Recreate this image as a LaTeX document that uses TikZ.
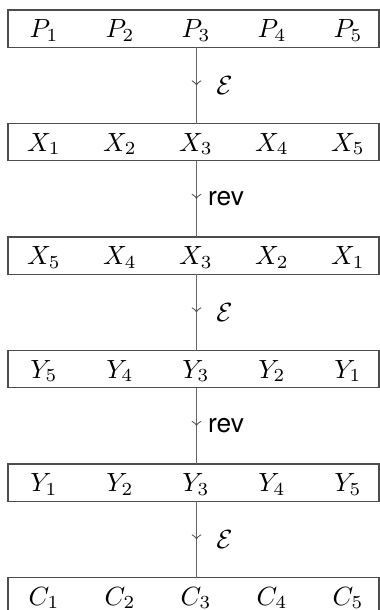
\documentclass[tikz,border=0pt]{standalone}
\usepackage{fontspec}
\setsansfont{TeX Gyre Heros}
\usetikzlibrary{decorations.markings}
\begin{document}
\begin{tikzpicture}[x=0.38pt,y=-0.38pt,
  rowbox/.style={draw=black!70,line width=0.45pt},
  item/.style={anchor=base,inner sep=0pt},
  flow/.style={draw=black!60,line width=0.7pt,
    postaction={decorate,decoration={markings,mark=at position 0.5 with {\arrow[black!70,line width=0.35pt,scale=1.1]{to}}}}},
  lab/.style={anchor=center,inner sep=0pt}]
\useasboundingbox (0,0) rectangle (380,610);
\foreach \r/\t/\a/\b/\c/\d/\e in {
  1/10/P_1/P_2/P_3/P_4/P_5,
  2/123.5/X_1/X_2/X_3/X_4/X_5,
  3/237/X_5/X_4/X_3/X_2/X_1,
  4/350.5/Y_5/Y_4/Y_3/Y_2/Y_1,
  5/464/Y_1/Y_2/Y_3/Y_4/Y_5,
  6/577.5/C_1/C_2/C_3/C_4/C_5}{
  \draw[rowbox] (8,\t) rectangle (379,\t+37.3);
  \coordinate (top\r) at (196.5,\t);
  \coordinate (bot\r) at (196.5,\t+37.3);
  \node[item] (n\r a) at (44,\t+27.5) {$\a$};
  \node[item] (n\r b) at (120,\t+27.5) {$\b$};
  \node[item] (n\r c) at (196,\t+27.5) {$\c$};
  \node[item] (n\r d) at (272,\t+27.5) {$\d$};
  \node[item] (n\r e) at (348,\t+27.5) {$\e$};
}
\draw[flow] (bot1) -- (top2);
\draw[flow] (bot2) -- (top3);
\draw[flow] (bot3) -- (top4);
\draw[flow] (bot4) -- (top5);
\draw[flow] (bot5) -- (top6);
\node[lab] (l1) at (224.5,86) {$\mathcal{E}$};
\node[lab] (l2) at (226,198.5) {\sffamily rev};
\node[lab] (l3) at (224.5,313) {$\mathcal{E}$};
\node[lab] (l4) at (226,425.5) {\sffamily rev};
\node[lab] (l5) at (224.5,539.5) {$\mathcal{E}$};
\end{tikzpicture}
\end{document}
